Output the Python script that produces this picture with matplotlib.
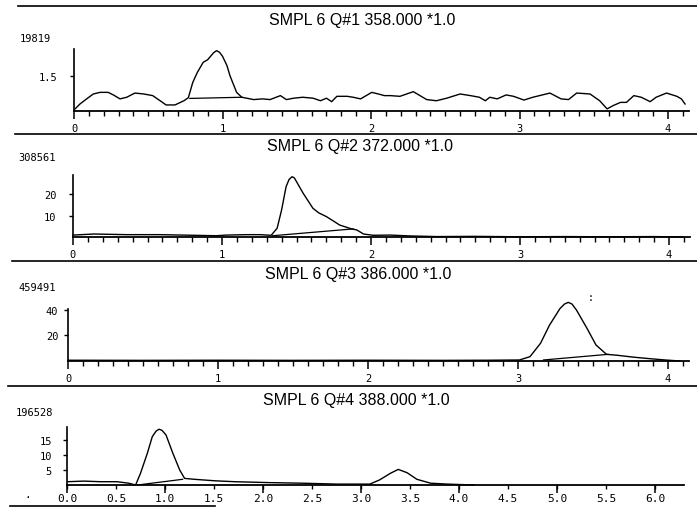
import matplotlib
matplotlib.use("Agg")
import matplotlib.pyplot as plt
from matplotlib.ticker import FixedLocator

W, H = 697, 510

# ---------------- data ----------------
titles = ["SMPL 6 Q#1 358.000 *1.0", "SMPL 6 Q#2 372.000 *1.0",
          "SMPL 6 Q#3 386.000 *1.0", "SMPL 6 Q#4 388.000 *1.0"]
scale_labels = ["19819", "308561", "459491", "196528"]

q1_t = [0.007, 0.04, 0.085, 0.13, 0.175, 0.23, 0.265, 0.31, 0.355, 0.41, 0.47, 0.53,
        0.58, 0.62, 0.68, 0.74, 0.77, 0.80, 0.83, 0.87, 0.90, 0.94, 0.96, 0.98, 1.00,
        1.03, 1.05, 1.095, 1.13,
        1.21, 1.27, 1.32, 1.39, 1.43, 1.48, 1.54, 1.61, 1.66, 1.70, 1.735, 1.77, 1.84,
        1.88, 1.93, 2.005, 2.05, 2.09, 2.13, 2.195, 2.285, 2.375, 2.44, 2.51, 2.60,
        2.67, 2.73, 2.77, 2.80, 2.85, 2.91, 2.96, 3.03, 3.09, 3.205, 3.28, 3.33, 3.385,
        3.475, 3.54, 3.59, 3.63, 3.68, 3.72, 3.77, 3.82, 3.88, 3.92, 3.99, 4.06, 4.09, 4.115]
q1_v = [0.09, 0.30, 0.52, 0.73, 0.80, 0.80, 0.69, 0.52, 0.59, 0.77, 0.73, 0.66,
        0.44, 0.26, 0.26, 0.44, 0.57, 1.23, 1.65, 2.09, 2.20, 2.50, 2.59, 2.52, 2.35,
        1.95, 1.52, 0.80, 0.59,
        0.49, 0.52, 0.49, 0.66, 0.49, 0.55, 0.59, 0.55, 0.44, 0.55, 0.40, 0.63, 0.63,
        0.59, 0.52, 0.80, 0.73, 0.66, 0.66, 0.63, 0.83, 0.49, 0.44, 0.55, 0.73,
        0.66, 0.59, 0.44, 0.59, 0.52, 0.69, 0.63, 0.47, 0.59, 0.77, 0.52, 0.49, 0.77,
        0.73, 0.44, 0.09, 0.23, 0.37, 0.37, 0.66, 0.59, 0.40, 0.59, 0.77, 0.63, 0.52, 0.30]
q1_base_t = [0.78, 1.13]
q1_base_v = [0.54, 0.59]

q2_t = [0.0, 0.14, 0.36, 0.58, 0.81, 0.96, 1.03, 1.165, 1.255, 1.33, 1.37, 1.40, 1.43,
        1.45, 1.47, 1.485, 1.50, 1.545, 1.61, 1.65, 1.70, 1.75, 1.79, 1.87, 1.905, 1.95,
        2.015, 2.13, 2.26, 2.44, 2.7, 3.0, 3.3, 3.6, 3.9, 4.09]
q2_v = [0.9, 1.4, 1.1, 1.1, 0.8, 0.6, 0.9, 1.1, 1.1, 0.8, 4.1, 12.7, 23.6,
        27.0, 28.3, 27.8, 26.0, 20.5, 13.5, 11.3, 9.6, 7.4, 5.6, 3.8, 3.3, 1.4,
        0.8, 0.9, 0.5, 0.2, 0.3, 0.1, 0.2, 0.1, 0.2, 0.0]
q2_base_t = [1.34, 1.88]
q2_base_v = [0.6, 3.8]

q3_t = [0.0, 0.5, 1.0, 1.5, 2.0, 2.5, 2.8, 3.01, 3.08, 3.15, 3.21, 3.28, 3.31, 3.335,
        3.36, 3.39, 3.46, 3.52, 3.59, 3.66, 3.77, 3.88, 3.98, 4.08]
q3_v = [0.6, 0.5, 0.6, 0.5, 0.6, 0.5, 0.6, 0.8, 3.4, 13.8, 28.0, 41.0, 44.5, 45.8,
        44.5, 39.8, 25.5, 12.5, 5.2, 4.5, 3.0, 1.8, 0.8, 0.0]
q3_base_t = [3.17, 3.6]
q3_base_v = [0.8, 5.2]

q4_t = [0.01, 0.17, 0.34, 0.51, 0.63, 0.70, 0.75, 0.82, 0.87, 0.91, 0.94, 0.97, 1.01,
        1.08, 1.15, 1.20, 1.30, 1.51, 1.71, 2.06, 2.40, 2.75, 2.92, 3.09, 3.19, 3.30,
        3.38, 3.47, 3.57, 3.71, 3.88, 4.15]
q4_v = [1.1, 1.3, 1.1, 1.1, 0.6, 0.0, 3.9, 10.6, 16.1, 18.0, 18.6, 18.2, 16.7,
        10.6, 5.0, 2.2, 1.9, 1.4, 1.1, 0.8, 0.6, 0.3, 0.3, 0.3, 1.7, 3.9,
        5.2, 4.1, 1.9, 0.6, 0.3, 0.0]
q4_base_t = [0.72, 1.18]
q4_base_v = [0.0, 1.9]

xticks_top = [0, 1, 2, 3, 4]
xticklabels_top = ["0", "1", "2", "3", "4"]
xticks_bottom = [0.0, 0.5, 1.0, 1.5, 2.0, 2.5, 3.0, 3.5, 4.0, 4.5, 5.0, 5.5, 6.0]
xticklabels_bottom = ["0.0", "0.5", "1.0", "1.5", "2.0", "2.5", "3.0",
                      "3.5", "4.0", "4.5", "5.0", "5.5", "6.0"]
yticks = [[1.5], [10, 20], [20, 40], [5, 10, 15]]
yticklabels = [["1.5"], ["10", "20"], ["20", "40"], ["5", "10", "15"]]

curves = [(q1_t, q1_v), (q2_t, q2_v), (q3_t, q3_v), (q4_t, q4_v)]
bases = [(q1_base_t, q1_base_v), (q2_base_t, q2_base_v),
         (q3_base_t, q3_base_v), (q4_base_t, q4_base_v)]

# ---------------- layout (pixels) ----------------
# x0_px, px per x unit, xmax, y0_px, px per y unit, ymax, y spine top, ytick pad
layout = [
    (74, 148.5, 4.14, 112, 23.3, 2.8, 2.66, 9),
    (73, 149.0, 4.14, 238, 2.13, 30, 29.1, 9),
    (68, 150.0, 4.14, 362, 1.28, 48, 41, 4),
    (67, 98.0, 6.30, 486, 3.0, 20, 19.3, 8),
]
title_pos = [(362, 21), (360, 147), (358, 274), (356, 401)]
scale_pos = [(35, 39), (37, 158), (37, 288), (34, 413)]
sep_lines = [(18, 697, 7), (15, 697, 135), (12, 697, 262), (8, 697, 387), (10, 215, 507)]

MONO = "DejaVu Sans Mono"
SANS = "Liberation Sans"

fig = plt.figure(figsize=(W / 100, H / 100), dpi=100)
fig.patch.set_facecolor("white")

def fx(px):
    return px / W

def fy(py):
    return 1 - py / H

for i in range(4):
    x0, kx, xmax, y0, ky, ymax, ytop, ypad = layout[i]
    ax = fig.add_axes([fx(x0), fy(y0), xmax * kx / W, ymax * ky / H])
    ax.set_xlim(0, xmax)
    ax.set_ylim(0, ymax)
    ax.patch.set_alpha(0)
    for s in ("top", "right"):
        ax.spines[s].set_visible(False)
    ax.spines["left"].set_linewidth(1.2)
    ax.spines["bottom"].set_linewidth(1.3)
    ax.spines["left"].set_bounds(0, ytop)
    ax.spines["bottom"].set_bounds(0, xmax)

    t, v = curves[i]
    ax.plot(t, v, color="black", lw=1.0, clip_on=False, solid_joinstyle="round")
    bt, bv = bases[i]
    ax.plot(bt, bv, color="black", lw=0.9, clip_on=False)

    ax.yaxis.set_major_locator(FixedLocator(yticks[i]))
    ax.set_yticklabels(yticklabels[i], fontfamily=MONO, fontsize=7.5)
    ax.tick_params(axis="y", direction="out", length=3, width=1.0, pad=ypad)

    if i < 3:
        ax.xaxis.set_major_locator(FixedLocator(xticks_top))
        ax.set_xticklabels(xticklabels_top, fontfamily=MONO, fontsize=7.5)
        ax.xaxis.set_minor_locator(FixedLocator([k / 10 for k in range(0, 42)]))
        ax.tick_params(axis="x", which="major", direction="out", length=6, width=1.1, pad=2.5)
        ax.tick_params(axis="x", which="minor", direction="out", length=3.5, width=1.0)
    else:
        ax.xaxis.set_major_locator(FixedLocator(xticks_bottom))
        ax.set_xticklabels(xticklabels_bottom, fontfamily=MONO, fontsize=8)
        ax.tick_params(axis="x", which="major", direction="out", length=3, width=1.0, pad=2.5)
        sec = ax.secondary_xaxis("bottom")
        sec.spines["bottom"].set_visible(False)
        sec.xaxis.set_major_locator(FixedLocator([0, 1, 2, 3, 4, 5, 6]))
        sec.tick_params(axis="x", direction="out", length=6, width=1.1, labelbottom=False)

    fig.text(fx(title_pos[i][0]), fy(title_pos[i][1]), titles[i], family=SANS,
             fontsize=11.5, ha="center", va="center")
    fig.text(fx(scale_pos[i][0]), fy(scale_pos[i][1]), scale_labels[i], family=MONO,
             fontsize=7.5, ha="center", va="center")

for xa, xb, yy in sep_lines:
    fig.add_artist(plt.Line2D([fx(xa), fx(xb)], [fy(yy), fy(yy)], color="black", lw=1.2))

# small specks in the scan
fig.text(fx(591), fy(298), ":", family=MONO, fontsize=7, ha="center", va="center")
fig.text(fx(28), fy(495), ".", family=MONO, fontsize=8, ha="center", va="center")

fig.savefig("out.png", dpi=100, facecolor="white")
